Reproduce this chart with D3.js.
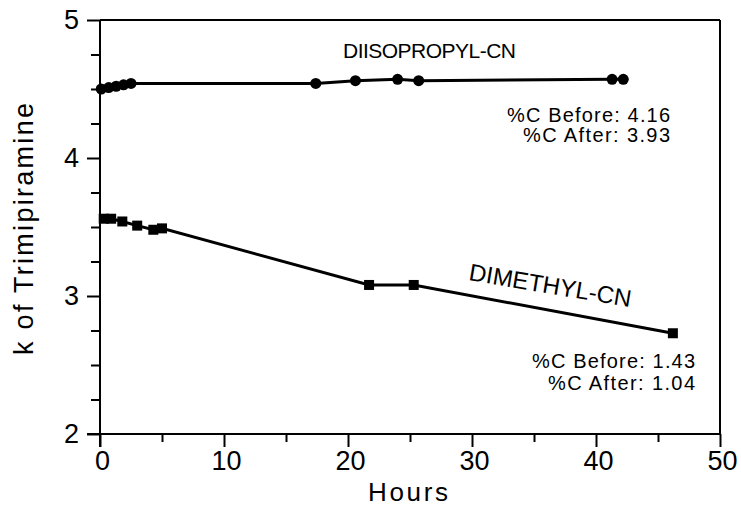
<!DOCTYPE html>
<html><head><meta charset="utf-8">
<script src="https://cdn.jsdelivr.net/npm/d3@7"></script>
<style>
html,body{margin:0;padding:0;background:#fff;}
svg{display:block;font-family:"Liberation Sans",Arial,Helvetica,sans-serif;}
</style></head>
<body>
<svg id="chart" width="741" height="507"></svg>
<script>
// ---- data ----
const diisoHours = [0.1, 0.7, 1.3, 1.9, 2.5, 17.4, 20.6, 24.0, 25.7, 41.3, 42.2];
const diisoK     = [4.50, 4.51, 4.52, 4.53, 4.54, 4.54, 4.56, 4.57, 4.56, 4.57, 4.57];
const dimeHours  = [0.3, 0.9, 1.8, 3.0, 4.3, 5.0, 21.7, 25.3, 46.2];
const dimeK      = [3.56, 3.56, 3.54, 3.51, 3.48, 3.49, 3.08, 3.08, 2.73];
const xTicks = [0, 10, 20, 30, 40, 50];
const xMinorTicks = [5, 15, 25, 35, 45];
const yTicks = [2, 3, 4, 5];
const yMinorTicks = [2.25, 2.5, 2.75, 3.25, 3.5, 3.75, 4.25, 4.5, 4.75];
const seriesLabels = ["DIISOPROPYL-CN", "DIMETHYL-CN"];
const notesDiiso = ["%C Before: 4.16", "%C After: 3.93"];
const notesDime  = ["%C Before: 1.43", "%C After: 1.04"];
const xTitle = "Hours";
const yTitle = "k of Trimipiramine";

// ---- chart ----
const svg = d3.select("#chart");
const L = 100, R = 720, T = 20, B = 434;
const x = d3.scaleLinear().domain([0, 50]).range([L, R]);
const y = d3.scaleLinear().domain([2, 5]).range([B, T]);

// frame (top and right)
svg.append("line").attr("x1", L).attr("x2", R).attr("y1", T).attr("y2", T)
  .attr("stroke", "#000").attr("stroke-width", 2);
svg.append("line").attr("x1", R).attr("x2", R).attr("y1", T).attr("y2", B)
  .attr("stroke", "#000").attr("stroke-width", 2);

// x axis
const gx = svg.append("g").attr("transform", `translate(0,${B})`);
gx.call(d3.axisBottom(x).tickValues(xTicks).tickSize(13).tickPadding(4).tickFormat(d3.format("d")));
gx.append("g").call(d3.axisBottom(x).tickValues(xMinorTicks).tickSize(8).tickFormat(""))
  .select(".domain").remove();
gx.selectAll(".domain").attr("stroke-width", 2).attr("d", `M${L - 13},0H${R}`);
gx.selectAll(".tick line").attr("stroke-width", 2);
gx.selectAll(".tick text").attr("font-size", 27).attr("fill", "#000")
  .attr("font-family", "'Liberation Sans',Arial,sans-serif").attr("dx", 2);

// y axis
const gy = svg.append("g").attr("transform", `translate(${L},0)`);
gy.call(d3.axisLeft(y).tickValues(yTicks).tickSize(13).tickPadding(8).tickFormat(d3.format("d")));
gy.append("g").call(d3.axisLeft(y).tickValues(yMinorTicks).tickSize(9).tickFormat(""))
  .select(".domain").remove();
gy.selectAll(".domain").attr("stroke-width", 2).attr("d", `M0,${T}V${B + 13}`);
gy.selectAll(".tick line").attr("stroke-width", 2);
gy.selectAll(".tick text").attr("font-size", 27).attr("fill", "#000")
  .attr("font-family", "'Liberation Sans',Arial,sans-serif");

// titles
svg.append("text").attr("x", (L + R) / 2 - 2).attr("y", 501).attr("text-anchor", "middle")
  .attr("font-size", 26).attr("textLength", 80).attr("lengthAdjust", "spacing").text(xTitle);
svg.append("text").attr("transform", `translate(33,229) rotate(-90)`).attr("text-anchor", "middle")
  .attr("font-size", 27).attr("textLength", 252).attr("lengthAdjust", "spacing").text(yTitle);

// series
const line = d3.line().x(d => x(d[0])).y(d => y(d[1]));
const diiso = diisoHours.map((h, i) => [h, diisoK[i]]);
const dime = dimeHours.map((h, i) => [h, dimeK[i]]);

svg.append("path").datum(diiso).attr("d", line).attr("fill", "none")
  .attr("stroke", "#000").attr("stroke-width", 3);
svg.append("path").datum(dime).attr("d", line).attr("fill", "none")
  .attr("stroke", "#000").attr("stroke-width", 3);

svg.selectAll("circle.pt").data(diiso).enter().append("circle").attr("class", "pt")
  .attr("cx", d => x(d[0])).attr("cy", d => y(d[1])).attr("r", 5.5).attr("fill", "#000");
const s = 10;
svg.selectAll("rect.pt").data(dime).enter().append("rect").attr("class", "pt")
  .attr("x", d => x(d[0]) - s / 2).attr("y", d => y(d[1]) - s / 2)
  .attr("width", s).attr("height", s).attr("fill", "#000");

// series labels
svg.append("text").attr("x", 343).attr("y", 58).attr("font-size", 21)
  .attr("textLength", 173).attr("lengthAdjust", "spacing").text(seriesLabels[0]);
svg.append("text").attr("transform", "translate(468,280) rotate(9.5)").attr("font-size", 24)
  .attr("textLength", 164).attr("lengthAdjust", "spacing").text(seriesLabels[1]);

// notes
const noteLens = [163, 147];
notesDiiso.forEach((t, i) => {
  svg.append("text").attr("x", 670).attr("y", 122 + i * 20).attr("text-anchor", "end")
    .attr("font-size", 20).attr("textLength", noteLens[i]).attr("lengthAdjust", "spacing")
    .text(t);
});
notesDime.forEach((t, i) => {
  svg.append("text").attr("x", 695).attr("y", 368 + i * 22).attr("text-anchor", "end")
    .attr("font-size", 20).attr("textLength", noteLens[i]).attr("lengthAdjust", "spacing")
    .text(t);
});
</script>
</body></html>
